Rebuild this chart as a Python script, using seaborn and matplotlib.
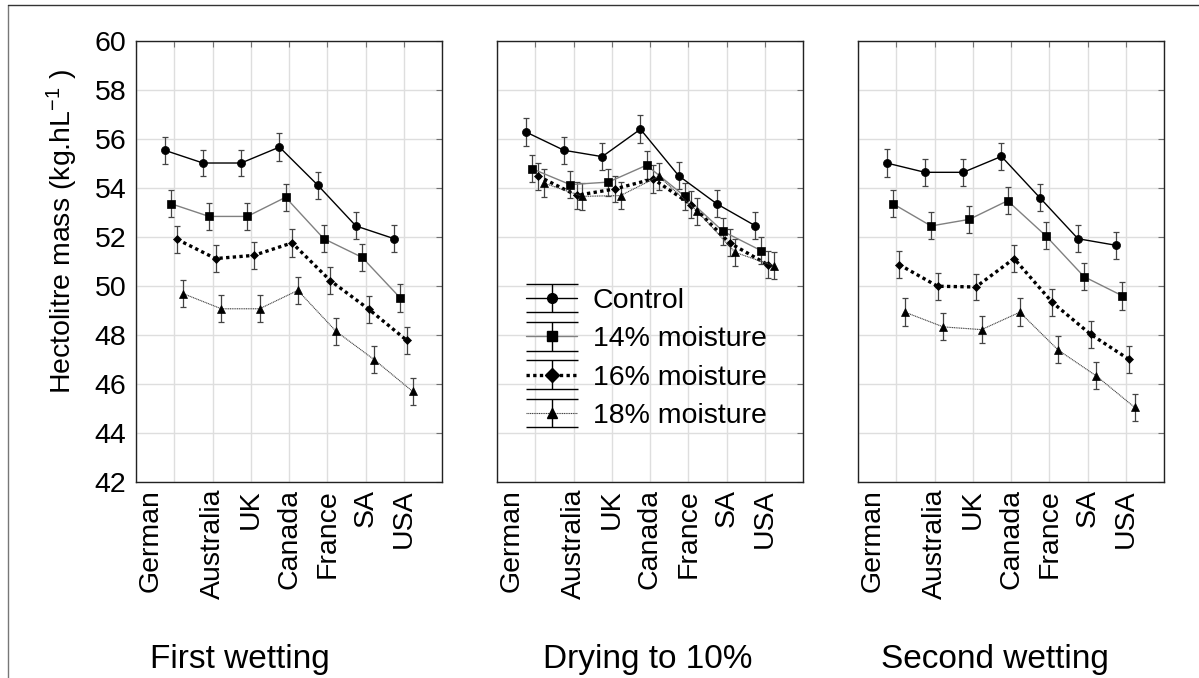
import numpy as np
import pandas as pd
import matplotlib
matplotlib.use("Agg")
import matplotlib.pyplot as plt
from matplotlib.lines import Line2D
import seaborn as sns

# ---------------- data ----------------
countries = ["German", "Australia", "UK", "Canada", "France", "SA", "USA"]
series_names = ["Control", "14% moisture", "16% moisture", "18% moisture"]
panel_titles = ["First wetting", "Drying to 10%", "Second wetting"]
y_ticks = [42, 44, 46, 48, 50, 52, 54, 56, 58, 60]

first_control = [55.54, 55.02, 55.02, 55.67, 54.12, 52.45, 51.93]
first_14 = [53.36, 52.84, 52.84, 53.62, 51.93, 51.17, 49.51]
first_16 = [51.90, 51.12, 51.25, 51.76, 50.22, 49.06, 47.78]
first_18 = [49.69, 49.07, 49.07, 49.82, 48.15, 46.99, 45.70]

dry_control = [56.29, 55.54, 55.28, 56.40, 54.50, 53.35, 52.46]
dry_14 = [54.79, 54.14, 54.24, 54.93, 53.66, 52.23, 51.44]
dry_16 = [54.48, 53.70, 53.96, 54.37, 53.32, 51.76, 50.87]
dry_18 = [54.20, 53.66, 53.69, 54.48, 53.06, 51.37, 50.83]

second_control = [55.02, 54.64, 54.64, 55.29, 53.61, 51.93, 51.66]
second_14 = [53.36, 52.45, 52.72, 53.48, 52.05, 50.38, 49.60]
second_16 = [50.87, 49.99, 49.96, 51.12, 49.33, 48.03, 47.01]
second_18 = [48.93, 48.33, 48.22, 48.93, 47.39, 46.33, 45.05]

std_err = [0.56, 0.55, 0.55, 0.56, 0.55, 0.55, 0.56]

panel_values = {
    "First wetting": [first_control, first_14, first_16, first_18],
    "Drying to 10%": [dry_control, dry_14, dry_16, dry_18],
    "Second wetting": [second_control, second_14, second_16, second_18],
}

rows = []
for p in panel_titles:
    for s, vals in zip(series_names, panel_values[p]):
        for i, (c, v) in enumerate(zip(countries, vals)):
            rows.append(dict(panel=p, series=s, country=c, pos=i + 1,
                             value=v, se=std_err[i]))
df = pd.DataFrame(rows)

# ---------------- styles ----------------
dodge = {"Control": -0.25, "14% moisture": -0.09,
         "16% moisture": 0.08, "18% moisture": 0.23}
styles = {
    "Control": dict(color="black", lw=1.0, ls="-", marker="o", ms=5.8),
    "14% moisture": dict(color="#808080", lw=1.0, ls="-", marker="s", ms=5.3),
    "16% moisture": dict(color="black", lw=2.4, ls=(0, (1, 1)), marker="D", ms=4.4),
    "18% moisture": dict(color="#404040", lw=0.8, ls=(0, (1, 0.6)), marker="^", ms=5.8),
}
legend_ms = {"Control": 7.0, "14% moisture": 7.0, "16% moisture": 7.0, "18% moisture": 7.5}

sns.set_style("white")
plt.rcParams["font.family"] = ["Liberation Sans", "DejaVu Sans"]
plt.rcParams["mathtext.fontset"] = "custom"
plt.rcParams["mathtext.rm"] = "Liberation Sans"
plt.rcParams["mathtext.it"] = "Liberation Sans:italic"
plt.rcParams["text.color"] = "black"
plt.rcParams["xtick.labelcolor"] = "black"
plt.rcParams["ytick.labelcolor"] = "black"

W, H = 1199, 678
fig = plt.figure(figsize=(W / 100, H / 100), dpi=100)

ax_left_px = [136, 497, 858]
ax_w_px, ax_top_px, ax_bot_px = 306, 41, 482
label_pos = [0.39, 2, 3, 4, 5, 6, 7]

axes = []
for k, p in enumerate(panel_titles):
    ax = fig.add_axes([ax_left_px[k] / W, 1 - ax_bot_px / H,
                       ax_w_px / W, (ax_bot_px - ax_top_px) / H])
    axes.append(ax)
    sub = df[df.panel == p]
    for s in series_names:
        d = sub[sub.series == s].copy()
        d["x"] = d["pos"] + dodge[s]
        st = styles[s]
        sns.lineplot(data=d, x="x", y="value", ax=ax, sort=False,
                     errorbar=None, color=st["color"], linewidth=st["lw"],
                     linestyle=st["ls"], marker=st["marker"],
                     markersize=st["ms"], markerfacecolor="black",
                     markeredgecolor="black", markeredgewidth=0.5,
                     legend=False, zorder=3)
        ax.errorbar(d["x"], d["value"], yerr=d["se"], fmt="none",
                    ecolor="#444444", elinewidth=0.9, capsize=2.3,
                    capthick=0.9, zorder=2)

    ax.xaxis.remove_overlapping_locs = False
    ax.set_xlim(0, 8)
    ax.set_ylim(42, 60)
    ax.set_xticks(range(0, 9))
    ax.set_xticklabels([])
    ax.set_xticks(label_pos, countries, minor=True)
    ax.set_yticks(y_ticks)
    ax.grid(True, which="major", color="#dedede", lw=1.0)
    ax.set_axisbelow(True)
    ax.tick_params(which="major", direction="in", length=4, width=0.8,
                   color="#707070", top=True, right=True)
    ax.tick_params(axis="x", which="minor", length=0, pad=5,
                   labelsize=20.5, labelrotation=90, labelcolor="black")
    ax.tick_params(axis="y", which="major", labelsize=20.5, pad=7,
                   labelcolor="black")
    for lab in ax.get_xticklabels(minor=True):
        lab.set_verticalalignment("top")
    if k > 0:
        ax.set_yticklabels([])
    ax.set_xlabel("")
    ax.set_ylabel("")
    for sp in ax.spines.values():
        sp.set_color("#222222")
        sp.set_linewidth(1.0)

# legend in the middle panel
ax2 = axes[1]
handles = []
for s in series_names:
    st = styles[s]
    h = ax2.errorbar([np.nan], [np.nan], yerr=[1.0], color=st["color"],
                     linewidth=st["lw"], linestyle=st["ls"],
                     marker=st["marker"], markersize=legend_ms[s],
                     markerfacecolor="black", markeredgecolor="black",
                     ecolor="black", elinewidth=1.0, capsize=19,
                     capthick=1.0)
    handles.append(h)
ax2.legend(handles, series_names, loc="center left",
           bbox_to_anchor=(0.095, 0.28), frameon=False, fontsize=20.5,
           handlelength=1.8, handletextpad=0.55, labelspacing=0.43,
           borderpad=0, borderaxespad=0, labelcolor="black")

# y label and panel titles
fig.text(62 / W, 1 - 232 / H, "Hectolitre mass (kg.hL$^{-1}$ )",
         rotation=90, ha="center", va="center", fontsize=20.5)
title_x = [240, 648, 995]
for t, x in zip(panel_titles, title_x):
    fig.text(x / W, 1 - 668 / H, t, ha="center", va="baseline", fontsize=24)

# outer frame (left and top edges visible)
fig.add_artist(Line2D([8 / W, 8 / W], [0, 1 - 5 / H], transform=fig.transFigure,
                      color="#777777", lw=1.0))
fig.add_artist(Line2D([8 / W, 1], [1 - 5 / H, 1 - 5 / H], transform=fig.transFigure,
                      color="#333333", lw=1.0))

fig.savefig("out.png", dpi=100)
